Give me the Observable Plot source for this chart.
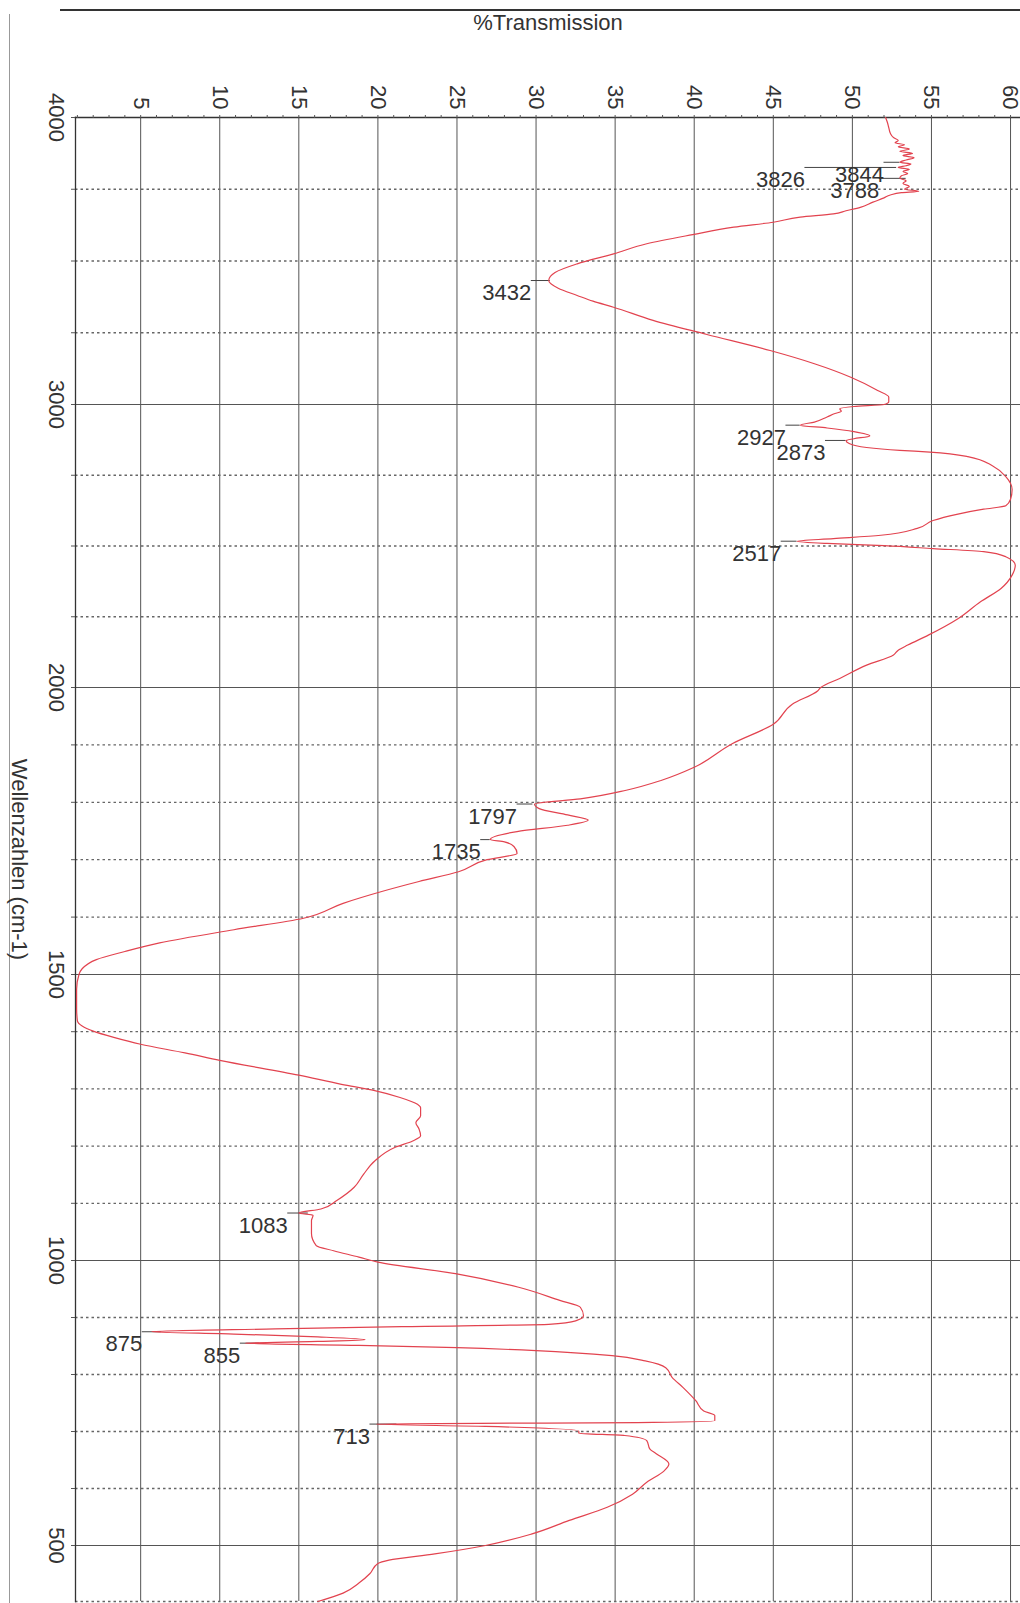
<!DOCTYPE html>
<html>
<head>
<meta charset="utf-8">
<script src="https://cdn.jsdelivr.net/npm/d3@7"></script>
<script src="https://cdn.jsdelivr.net/npm/@observablehq/plot@0.6"></script>
<style>
  body { margin: 0; background: #fff; }
  #wrap { position: relative; width: 1020px; height: 1603px; overflow: hidden; background: #fff; }
  #edgeTop { position: absolute; left: 60px; top: 9px; width: 960px; height: 0; border-top: 2px solid #333; }
  #edgeLeft { position: absolute; left: 9px; top: 14px; width: 0; height: 1589px; border-left: 1px solid #999; }
  #wrap svg { display: block; }
</style>
</head>
<body>
<div id="wrap"><div id="edgeTop"></div><div id="edgeLeft"></div></div>
<script>
// ---- spectrum (wavenumber cm-1, %Transmission) ----
const wavenumbers = [
  4000,3985,3965,3945,3930,3920,3912,3905,3898,3890,3882,3875,3868,3860,3852,3844,3838,3832,3826,3819,
  3812,3805,3797,3788,3780,3770,3760,3750,3743,3738,3730,3720,3705,3687,3675,3664,3653,3635,3618,3592,
  3560,3525,3490,3460,3432,3405,3380,3360,3339,3293,3244,3188,3142,3095,3049,3026,3010,3000,2993,2985,
  2976,2968,2956,2938,2927,2917,2904,2889,2879,2873,2862,2848,2838,2832,2816,2782,2745,2700,2665,2642,
  2630,2612,2590,2562,2538,2526,2517,2509,2501,2491,2480,2462,2432,2397,2350,2303,2244,2185,2150,2132,
  2115,2079,2032,2000,1994,1971,1936,1902,1861,1838,1821,1806,1797,1789,1778,1769,1760,1749,1735,1731,
  1723,1711,1700,1679,1662,1645,1624,1598,1578,1555,1540,1526,1510,1500,1474,1440,1419,1410,1401,1390,
  1378,1363,1350,1324,1308,1297,1285,1273,1267,1253,1241,1230,1218,1209,1198,1174,1151,1128,1105,1090,
  1083,1079,1070,1047,1026,1017,1006,997,977,953,930,918,903,894,888,884,880,875,871,866,
  861,858,855,851,847,842,833,824,812,795,777,754,736,728,719,716,713,709,701,697,
  693,684,669,661,643,631,611,590,567,544,520,500,485,474,468,450,433,415,400
];
const transmission = [
  52.1,52.2,52.3,52.4,52.6,52.9,52.7,53.3,52.9,53.6,53.0,53.8,53.2,53.9,53.4,53.0,53.7,53.4,52.9,53.6,
  53.2,53.5,53.1,53.0,53.4,53.2,53.6,53.3,54.2,53.1,52.4,52.0,51.3,50.5,49.6,48.8,46.7,45.0,42.5,39.9,
  37.0,34.9,32.6,31.2,30.8,31.4,32.6,33.6,34.9,37.4,40.8,44.8,47.6,49.9,51.6,52.3,52.3,52.0,50.1,49.2,
  49.3,48.9,48.4,47.6,46.7,48.4,50.1,51.1,50.1,49.6,49.8,50.9,53.0,54.9,57.3,58.9,59.7,60.1,60.0,59.7,
  58.3,56.6,55.1,54.1,51.8,48.8,46.5,48.4,52.0,55.1,58.3,59.7,60.3,60.1,59.4,58.1,56.7,54.8,53.5,52.9,
  52.6,50.9,49.2,48.0,47.8,46.2,45.0,42.4,40.0,37.9,35.7,32.8,29.9,30.2,32.0,33.3,32.0,28.8,27.1,28.0,
  28.6,28.8,26.9,25.1,22.6,20.3,17.8,15.3,10.9,6.2,4.0,2.2,1.3,1.1,0.95,0.95,1.0,1.3,2.0,3.3,
  5.0,7.8,10.0,15.0,17.7,19.8,21.4,22.5,22.7,22.7,22.4,22.6,22.7,22.2,21.1,19.8,19.1,18.5,17.4,16.4,
  15.0,15.9,15.8,15.8,16.1,17.2,18.8,20.0,24.9,28.9,31.5,32.8,33.0,32.5,30.8,21.5,13.5,5.7,10.9,16.2,
  19.2,16.2,11.6,18.8,25.0,30.0,34.8,36.9,38.2,38.6,39.3,40.1,40.6,41.3,41.3,37.4,19.9,26.8,32.7,32.7,
  35.6,37.0,37.2,37.6,38.4,38.1,37.0,36.1,34.5,32.1,29.7,26.8,23.6,20.7,20.0,19.5,18.8,17.8,16.2
];

// ---- peak annotations ----
const peakText   = ["3844","3826","3788","3432","2927","2873","2517","1797","1735","1083","875","855","713"];
const peakWn     = [3844, 3826, 3788, 3432, 2927, 2873, 2517, 1797, 1735, 1083, 875, 855, 713];
const peakT      = [53.0, 52.8, 53.4, 30.9, 46.7, 49.6, 46.5, 29.8, 27.1, 15.6, 6.3, 12.5, 21.2];
const labelT     = [52.0, 47.0, 51.7, 29.7, 45.8, 48.3, 45.5, 28.8, 26.5, 14.3, 5.1, 11.3, 19.5];

// ---- axes / grid ----
const xTickLabels = [5,10,15,20,25,30,35,40,45,50,55,60];
const xMinorTicks = [1,2,3,4,5,6,7,8,9,10,11,12,13,14,15,16,17,18,19,20,21,22,23,24,25,26,27,28,29,30,
                     31,32,33,34,35,36,37,38,39,40,41,42,43,44,45,46,47,48,49,50,51,52,53,54,55,56,57,58,59,60];
const yTickLabels = [4000,3000,2000,1500,1000,500];
const ySolidGrid = [3000,2000,1500,1000,500];
const yDottedGrid = [3750,3500,3250,2750,2500,2250,1900,1800,1700,1600,1400,1300,1200,1100,900,800,700,600,400];
const yMinorTicks = [4000,3750,3500,3250,3000,2750,2500,2250,2000,1900,1800,1700,1600,1500,1400,1300,1200,1100,1000,900,800,700,600,500];

const spectrum = wavenumbers.map((w, i) => ({w, t: transmission[i]}));
const peaks = peakWn.map((w, i) => ({w, t: peakT[i], lt: labelT[i], s: peakText[i]}));

const font = "'Liberation Sans', Arial, Helvetica, sans-serif";
const ink = "#333";

const chart = Plot.plot({
  width: 1020,
  height: 1603,
  marginTop: 117,
  marginLeft: 75,
  marginRight: 0,
  marginBottom: 2,
  style: {fontFamily: font, fontSize: "22px", color: ink, background: "transparent", overflow: "visible"},
  x: {domain: [0.88, 60.63], label: null},
  y: {type: "linear", domain: [4000, 3000, 2000, 1500, 1000, 500, 400],
      range: [117, 404, 687, 974, 1260, 1545, 1601], label: null},
  marks: [
    Plot.ruleX(xTickLabels, {x: d => d, stroke: "#555", strokeWidth: 1}),
    Plot.ruleY(ySolidGrid, {y: d => d, stroke: "#555", strokeWidth: 1}),
    Plot.ruleY(yDottedGrid, {y: d => d, stroke: "#666", strokeWidth: 1.3, strokeDasharray: "2.5,3"}),
    Plot.frame({anchor: "top", stroke: "#333", strokeWidth: 1.6}),
    Plot.frame({anchor: "left", stroke: "#333", strokeWidth: 1.3}),
    Plot.axisX({anchor: "top", ticks: xMinorTicks, tickSize: 3, tickFormat: () => "", label: null, stroke: "#555"}),
    Plot.axisY({anchor: "left", ticks: yMinorTicks, tickSize: 4, tickFormat: () => "", label: null, stroke: "#555"}),
    Plot.text(xTickLabels, {x: d => d, text: d => String(d), frameAnchor: "top", dy: -8, rotate: 90,
      textAnchor: "end", lineAnchor: "middle", fill: ink, fontSize: 22}),
    Plot.text(yTickLabels, {y: d => d, text: d => String(d), frameAnchor: "left", dx: -11, rotate: 90,
      textAnchor: "middle", lineAnchor: "top", fill: ink, fontSize: 22}),
    Plot.text(["%Transmission"], {text: d => d, frameAnchor: "top", dy: -95, textAnchor: "middle",
      lineAnchor: "middle", fill: ink, fontSize: 22}),
    Plot.text(["Wellenzahlen (cm-1)"], {text: d => d, frameAnchor: "left", dx: -56, rotate: 90,
      textAnchor: "middle", lineAnchor: "middle", fill: ink, fontSize: 22}),
    Plot.ruleY(peaks, {y: "w", x1: "lt", x2: "t", stroke: "#444", strokeWidth: 1}),
    Plot.text(peaks, {x: "lt", y: "w", text: "s", textAnchor: "end", lineAnchor: "top", dy: 4, fill: ink, fontSize: 22}),
    Plot.line(spectrum, {x: "t", y: "w", stroke: "#e2434f", strokeWidth: 1.2, curve: "monotone-y"})
  ]
});
document.getElementById("wrap").appendChild(chart);
chart.style.position = "absolute";
chart.style.left = "0px";
chart.style.top = "0px";
</script>
</body>
</html>
